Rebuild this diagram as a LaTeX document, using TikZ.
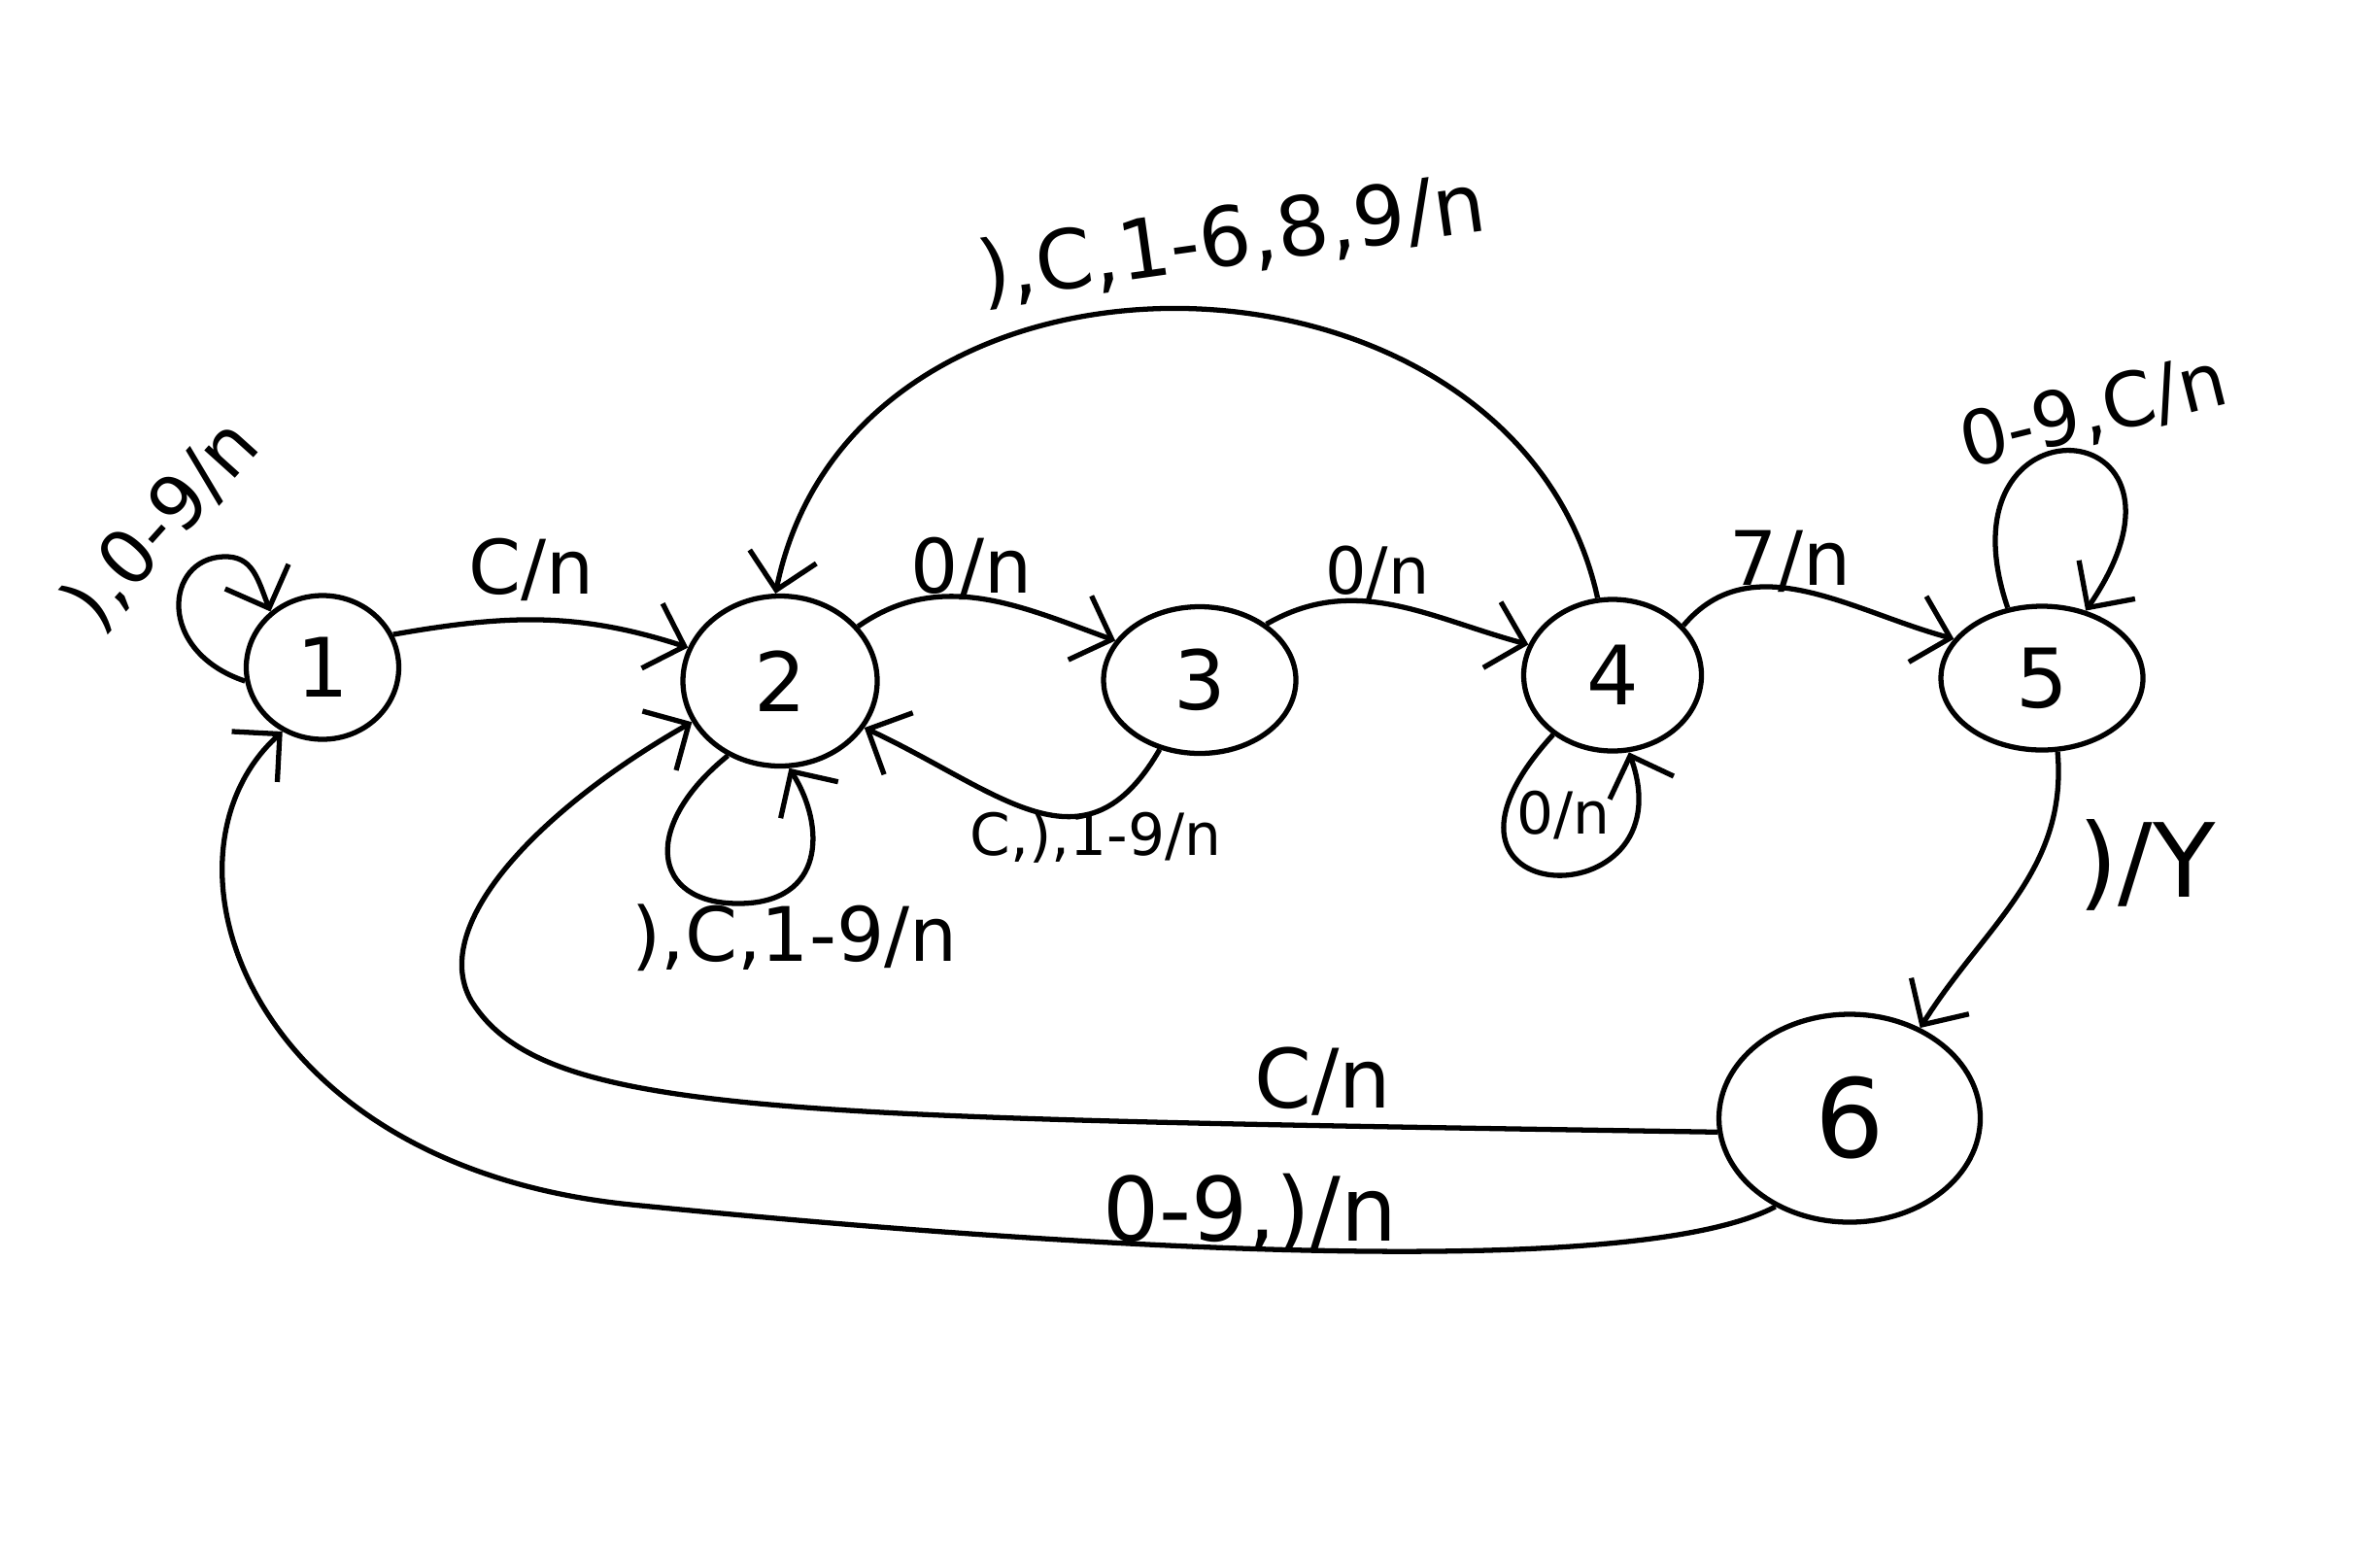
\documentclass[tikz,border=0pt]{standalone}
\usepackage{fontspec}
\setmainfont{DejaVu Sans}
\usetikzlibrary{arrows.meta,shapes.geometric}

\begin{document}
\begin{tikzpicture}[
    state/.style={ellipse, draw, line width=1.5pt, inner sep=0pt, font=\fontsize{24}{28}\selectfont},
    trans/.style={-{Straight Barb[length=3.5mm,width=7mm]}, line width=1.5pt},
    lbl/.style={inner sep=1pt, font=\fontsize{22}{26}\selectfont},
    lblsmall/.style={inner sep=1pt, font=\fontsize{17}{20}\selectfont}
]
\useasboundingbox (0,0) rectangle (24.49,-16.13);

% States
\node[state, minimum width=1.57cm, minimum height=1.48cm] (q1) at (3.32,-6.87) {1};
\node[state, minimum width=2.0cm, minimum height=1.75cm] (q2) at (8.03,-7.01) {2};
\node[state, minimum width=1.98cm, minimum height=1.51cm] (q3) at (12.35,-7.0) {3};
\node[state, minimum width=1.83cm, minimum height=1.56cm] (q4) at (16.6,-6.95) {4};
\node[state, minimum width=2.08cm, minimum height=1.48cm] (q5) at (21.02,-6.98) {5};
\node[state, minimum width=2.69cm, minimum height=2.14cm, font=\fontsize{32}{36}\selectfont] (q6) at (19.04,-11.51) {6};

% Transitions along the top row
\draw[trans] (q1.25) to[out=10,in=162] (q2.160);
\draw[trans] (q2.35) to[out=35,in=160] (q3.155);
\draw[trans] (q3.40) to[out=30,in=165] (q4.160);
\draw[trans] (q4.35) to[out=50,in=165] (q5.156);
\draw[trans] (q4.101) .. controls (15.6,-2.3) and (8.8,-2.1) .. (q2.93);
\draw[trans] (q3.240) to[out=240,in=-25,looseness=1.3] (q2.-29);

% Self loops
\draw[trans] (q1.190) .. controls (1.6,-6.7) and (1.7,-5.75) .. (2.3,-5.73)
    .. controls (2.6,-5.72) and (2.65,-5.95) .. (q1.133);
\draw[trans] (q2.235) .. controls (6.6,-8.5) and (6.7,-9.3) .. (7.6,-9.3)
    .. controls (8.5,-9.3) and (8.5,-8.5) .. (q2.276);
\draw[trans] (q4.225) .. controls (14.3,-9.4) and (17.4,-9.5) .. (q4.282);
\draw[trans] (q5.116) .. controls (19.9,-4.0) and (22.9,-4.2) .. (q5.57);

% Return paths
\draw[trans] (q5.282) to[out=-85,in=58] (q6.52);
\draw[trans] (q6.186) .. controls (8.0,-11.5) and (5.6,-11.5) .. (4.85,-10.3)
    .. controls (4.4,-9.5) and (5.6,-8.3) .. (q2.205);
\draw[trans] (q6.230) .. controls (16.8,-13.2) and (11,-12.85) .. (6.5,-12.4)
    .. controls (2.5,-12.0) and (1.5,-8.8) .. (q1.238);

% Labels
\node[lbl, rotate=48] (l11) at (1.67,-5.4) {),0-9/n};
\node[lbl] (l12) at (5.47,-5.86) {C/n};
\node[lbl] (l23) at (10.0,-5.85) {0/n};
\node[lbl, font=\fontsize{19}{22}\selectfont] (l34) at (14.18,-5.9) {0/n};
\node[lbl] (l45) at (18.43,-5.78) {7/n};
\node[lbl, rotate=8, font=\fontsize{24}{28}\selectfont] (l42) at (12.68,-2.47) {),C,1-6,8,9/n};
\node[lblsmall] (l32) at (11.28,-8.62) {C,),1-9/n};
\node[lbl] (l22) at (8.18,-9.65) {),C,1-9/n};
\node[lblsmall] (l44) at (16.09,-8.39) {0/n};
\node[lbl, rotate=14] (l55) at (21.55,-4.25) {0-9,C/n};
\node[lbl, font=\fontsize{30}{34}\selectfont] (l56) at (22.1,-8.9) {)/Y};
\node[lbl, font=\fontsize{24}{28}\selectfont] (l62) at (13.62,-11.13) {C/n};
\node[lbl, font=\fontsize{26}{30}\selectfont] (l61) at (12.87,-12.49) {0-9,)/n};

\end{tikzpicture}
\end{document}
